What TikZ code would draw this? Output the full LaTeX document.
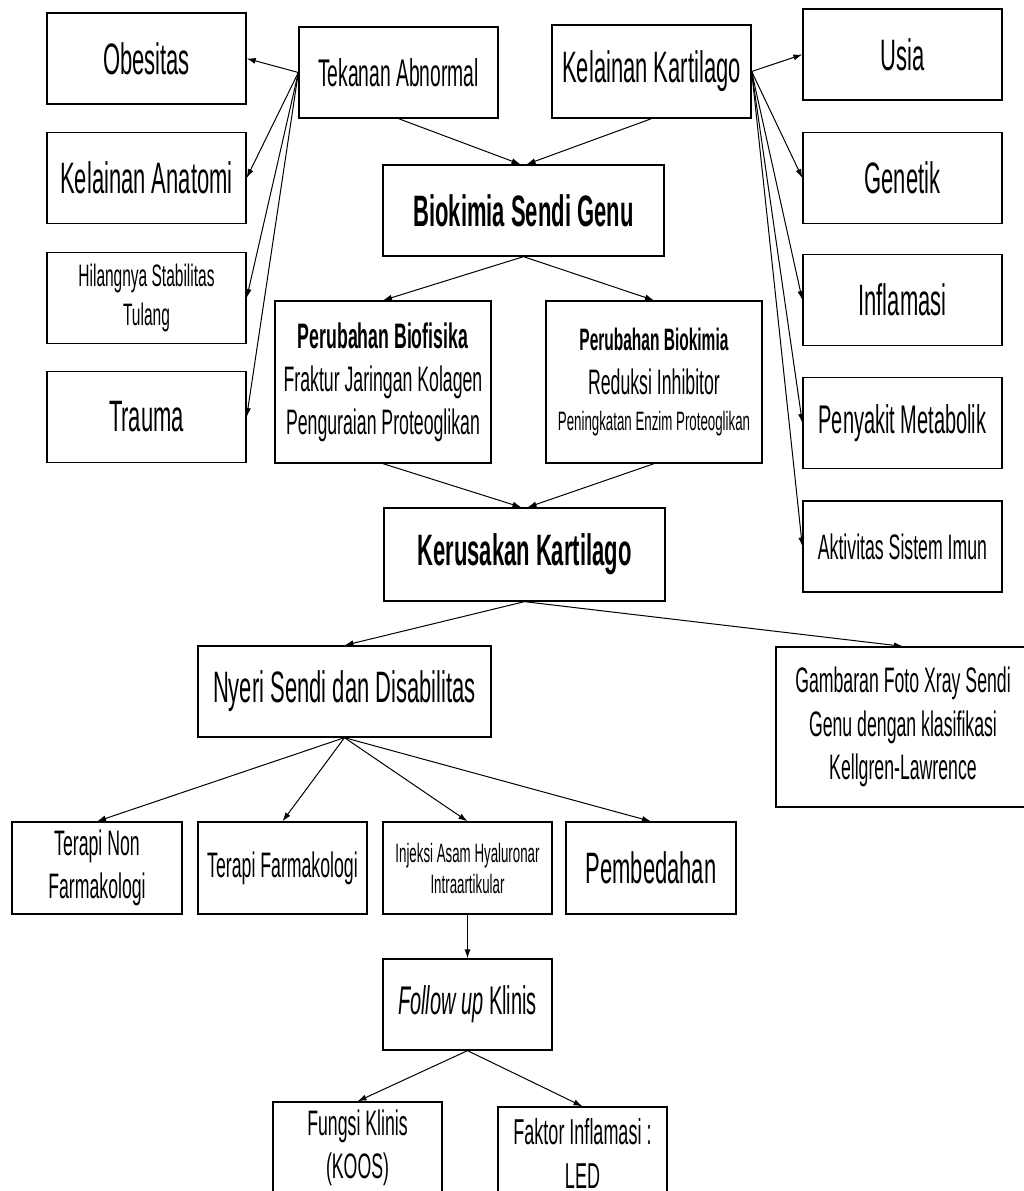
\documentclass[tikz,border=0pt]{standalone}
\usepackage{fontspec}
\setmainfont{Liberation Sans}[FakeStretch=0.5]
\usetikzlibrary{arrows.meta}

\newcommand\setfs[2]{\fontsize{#1}{#2}\selectfont}

\tikzset{
  kotak/.style={draw, line width=1.3pt, inner sep=0pt, align=center,
    minimum width=199pt, minimum height=91pt},
  panah/.style={->, line width=1pt}
}

\begin{document}
\begin{tikzpicture}[x=1pt, y=-1pt, >={Latex[length=9pt,width=6pt]}]
	\useasboundingbox (0,0) rectangle (1024,1191);

	% faktor penyebab kiri
	\foreach \n/\y/\t in {obes/58.5/Obesitas, anat/178/Kelainan Anatomi, trauma/417/Trauma}
	\node [kotak, font=\setfs{44}{50}] (\n) at (146.5,\y) {\t};
	\node [kotak, font=\setfs{31}{39}] (stab) at (146.5,298) {Hilangnya Stabilitas\\Tulang};

	% faktor penyebab kanan
	\foreach \n/\y/\t/\s in {usia/54.5/Usia/44, genetik/178/Genetik/44, inflam/300/Inflamasi/44,
		metab/423/Penyakit Metabolik/40, imun/546.5/Aktivitas Sistem Imun/35.4}
	\node [kotak, font=\setfs{\s}{50}] (\n) at (902.5,\y) {\t};

	% alur tengah
	\node [kotak, font=\setfs{38.6}{46}] (tekanan) at (398.5,72.5) {Tekanan Abnormal};
	\node [kotak, minimum height=93pt, font=\setfs{44}{50}] (kartl) at (651.5,71.5) {Kelainan Kartilago};
	\node [kotak, minimum width=281pt, font=\setfs{44}{50}\bfseries] (biokimia) at (523.5,210.5) {Biokimia Sendi Genu};
	\node [kotak, minimum width=216pt, minimum height=162pt, font=\setfs{35.4}{43}] (biofis) at (383,382)
		{\textbf{Perubahan Biofisika}\\Fraktur Jaringan Kolagen\\Penguraian Proteoglikan};
	\node [kotak, minimum width=216pt, minimum height=162pt, font=\setfs{31}{36}] (biokim) at (654,382)
		{\textbf{Perubahan Biokimia}\\[8pt]{\setfs{35.4}{36}Reduksi Inhibitor}\\{\setfs{26.6}{36}Peningkatan Enzim Proteoglikan}};
	\node [kotak, minimum width=281pt, minimum height=93pt, font=\setfs{44}{50}\bfseries] (rusak) at (524.5,554.5) {Kerusakan Kartilago};
	\node [kotak, minimum width=293pt, font=\setfs{44}{50}] (nyeri) at (344.5,691.5) {Nyeri Sendi dan Disabilitas};
	\node [kotak, minimum width=254pt, minimum height=160pt, font=\setfs{35.4}{43.5}] (xray) at (903,727)
		{Gambaran Foto Xray Sendi\\Genu dengan klasifikasi\\Kellgren-Lawrence};

	% terapi
	\node [kotak, minimum width=170pt, minimum height=92pt, font=\setfs{35.4}{43}] (tnon) at (97,868) {Terapi Non\\Farmakologi};
	\node [kotak, minimum width=169pt, minimum height=92pt, font=\setfs{35.4}{43}] (tfarm) at (282.5,868) {Terapi Farmakologi};
	\node [kotak, minimum width=169pt, minimum height=92pt, font=\setfs{26.6}{31}] (injeksi) at (467.5,868) {Injeksi Asam Hyaluronar\\Intraartikular};
	\node [kotak, minimum width=170pt, minimum height=92pt, font=\setfs{44}{50}] (bedah) at (651,868) {Pembedahan};
	\node [kotak, minimum width=169pt, font=\setfs{40}{46}] (follow) at (467.5,1004.5) {\textit{Follow up} Klinis};
	\node [kotak, minimum width=169pt, minimum height=92pt, font=\setfs{35.4}{43}] (fungsi) at (357.5,1148) {Fungsi Klinis\\(KOOS)};
	\node [kotak, minimum width=169pt, minimum height=92pt, font=\setfs{36}{44}] (faktor) at (582.5,1153) {Faktor Inflamasi :\\LED};

	% panah
	\foreach \t in {obes,anat,stab,trauma}
	\draw [panah] (tekanan.west) -- (\t.east);
	\foreach \t in {usia,genetik,inflam,metab,imun}
	\draw [panah] (kartl.east) -- (\t.west);
	\draw [panah] (tekanan.south) -- ([xshift=-3pt]biokimia.north);
	\draw [panah] (kartl.south) -- ([xshift=3pt]biokimia.north);
	\foreach \t in {biofis,biokim}
	\draw [panah] (biokimia.south) -- (\t.north);
	\draw [panah] (biofis.south) -- ([xshift=-3pt]rusak.north);
	\draw [panah] (biokim.south) -- ([xshift=3pt]rusak.north);
	\foreach \t in {nyeri,xray}
	\draw [panah] (rusak.south) -- (\t.north);
	\foreach \t in {tnon,tfarm,injeksi,bedah}
	\draw [panah] (nyeri.south) -- (\t.north);
	\draw [panah] (injeksi.south) -- (follow.north);
	\foreach \t in {fungsi,faktor}
	\draw [panah] (follow.south) -- (\t.north);
\end{tikzpicture}
\end{document}
